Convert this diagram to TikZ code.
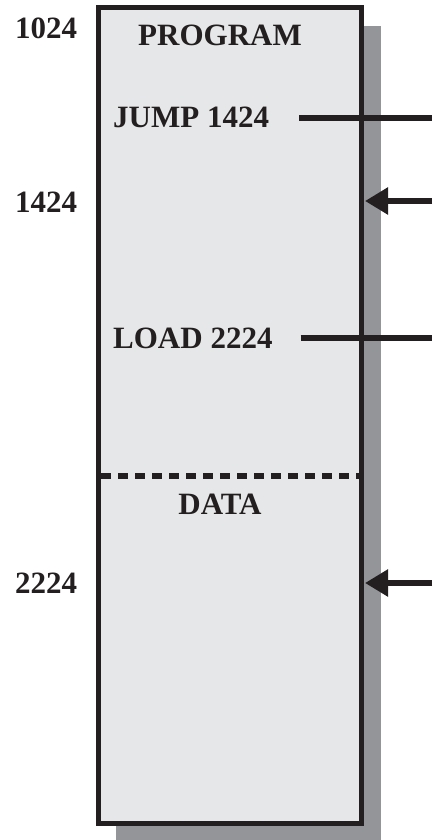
\documentclass[tikz,border=0pt]{standalone}
\usepackage{fontspec}
\setmainfont{Liberation Serif}
\usetikzlibrary{arrows.meta}

\definecolor{boxfill}{RGB}{230,231,232}
\definecolor{shadowgray}{RGB}{147,149,152}
\definecolor{inkblack}{RGB}{35,31,32}

\tikzset{
  lbl/.style={anchor=base west, inner sep=0pt, font=\fontsize{31}{36}\selectfont\bfseries, text=inkblack},
  seclbl/.style={lbl, anchor=base},
  wire/.style={line width=5.5pt, draw=inkblack},
}

\begin{document}
\begin{tikzpicture}[x=1pt, y=-1pt, >={Triangle[length=23pt,width=26pt]}]
  \useasboundingbox (0,0) rectangle (432,840);

  % shadow behind the memory block
  \fill[shadowgray] (116,26) rectangle (381,840);

  % memory block
  \draw[line width=5.5pt, draw=inkblack, fill=boxfill] (98.5,7.5) rectangle (361.5,823.5);

  % boundary between program and data
  \draw[line width=5.5pt, draw=inkblack, dash pattern=on 10pt off 7pt] (101,476) -- (360,476);

  % addresses on the left
  \foreach \adr/\yy in {1024/39, 1424/212, 2224/593}
    \node[lbl] (a\adr) at (15,\yy) {\adr};

  % section titles
  \node[seclbl] (prog) at (220,46) {PROGRAM};
  \node[seclbl] (data) at (220,514) {DATA};

  % instructions
  \node[lbl] (jump) at (113,128) {JUMP 1424};
  \node[lbl] (load) at (113,348) {LOAD 2224};

  % references leaving the block
  \coordinate (jumpend) at (432,118);
  \coordinate (loadend) at (432,338);
  \draw[wire] ([xshift=30pt]jump.east |- jumpend) -- (jumpend);
  \draw[wire] ([xshift=28pt]load.east |- loadend) -- (loadend);

  % references arriving at targets
  \coordinate (jumpin) at (432,201);
  \coordinate (jumptgt) at (365,201);
  \coordinate (loadin) at (432,583);
  \coordinate (loadtgt) at (365,583);
  \draw[wire, ->] (jumpin) -- (jumptgt);
  \draw[wire, ->] (loadin) -- (loadtgt);
\end{tikzpicture}
\end{document}
